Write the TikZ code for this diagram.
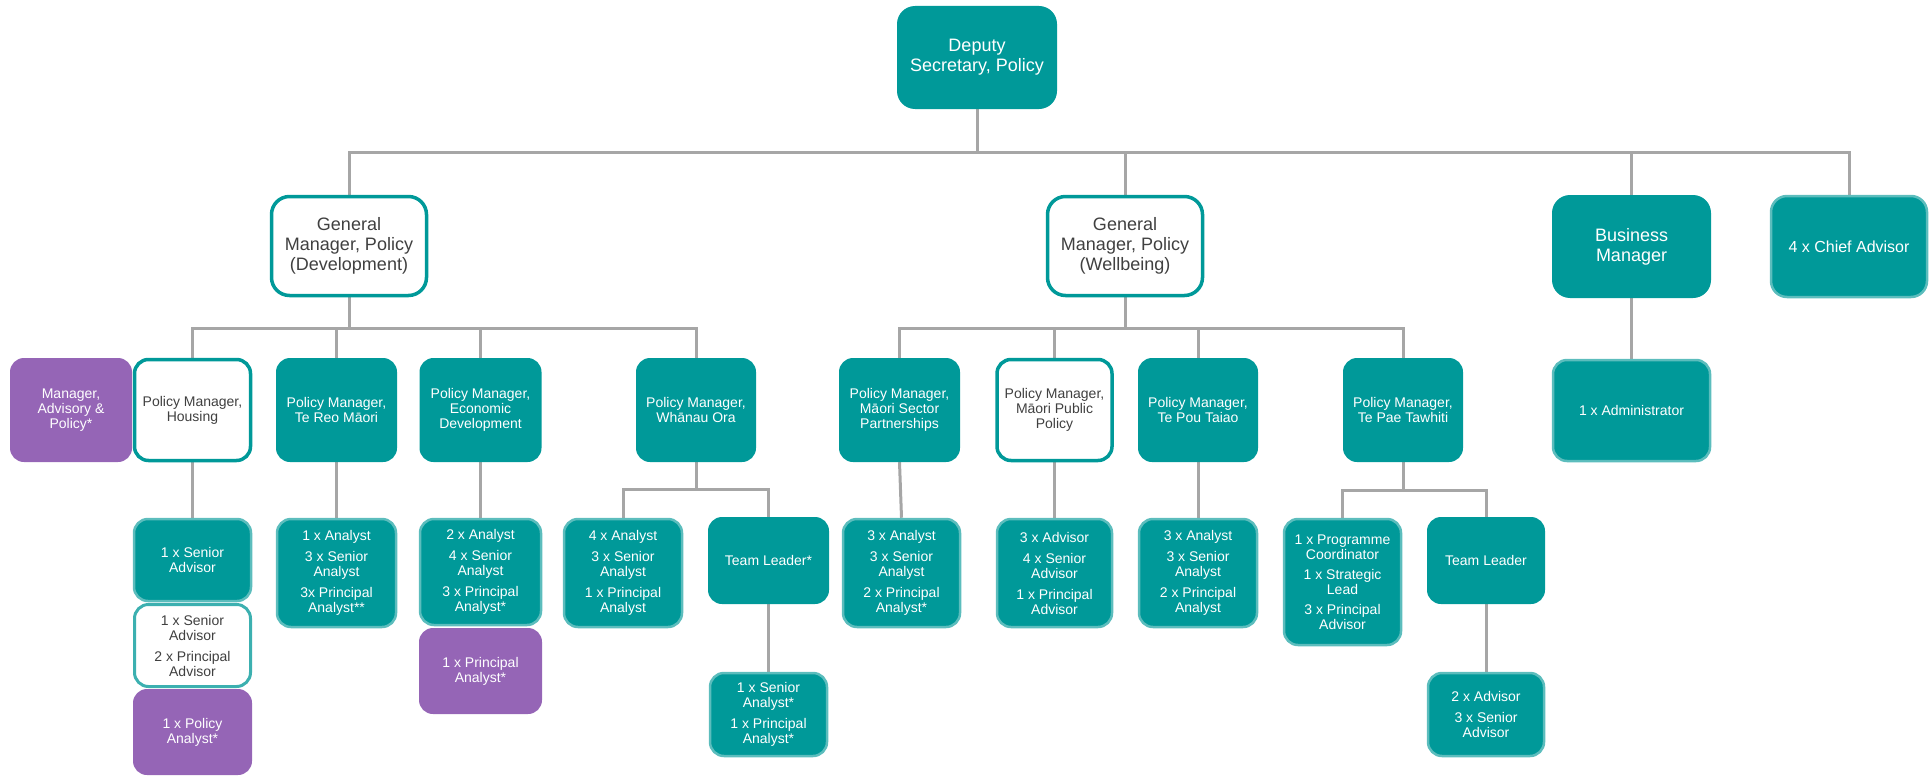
\documentclass[tikz,border=0pt]{standalone}
\usepackage{fontspec}
\setmainfont{Liberation Sans}
\usetikzlibrary{backgrounds}
\definecolor{teal0}{RGB}{0,153,153}
\definecolor{tealL}{RGB}{92,189,189}
\definecolor{tealW}{RGB}{60,176,176}
\definecolor{purp}{RGB}{149,101,182}
\definecolor{lineg}{RGB}{166,166,166}
\definecolor{txt}{RGB}{64,64,64}
\tikzset{
 orgbase/.style={rectangle, rounded corners=14pt, align=center, inner sep=0pt, font=\fontsize{14}{15}\selectfont},
 tealbox/.style={orgbase, fill=teal0, text=white},
 kidbox/.style={orgbase, fill=teal0, draw=tealL, line width=2.5pt, text=white},
 whitebox/.style={orgbase, fill=white, draw=teal0, line width=3.5pt, text=txt},
 whitekid/.style={orgbase, fill=white, draw=tealW, line width=3pt, text=txt},
 purplebox/.style={orgbase, fill=purp, text=white},
 bigtext/.style={font=\fontsize{18}{20}\selectfont, rounded corners=18pt},
 sz/.style 2 args={minimum width=#1pt, minimum height=#2pt},
 conn/.style={draw=lineg, line width=3pt},
}
\begin{document}
\begin{tikzpicture}[x=1pt,y=-1pt]
\useasboundingbox (0,0) rectangle (1929,776);
% level 0
\node[tealbox,bigtext,sz={160}{103}] (deputy) at (977,57.5) {Deputy\\Secretary, Policy};
% level 1
\node[whitebox,bigtext,sz={155}{99}] (gmdev) at (349,246) {General\\Manager, Policy\\(Development)};
\node[whitebox,bigtext,sz={155}{99}] (gmwell) at (1125,246) {General\\Manager, Policy\\(Wellbeing)};
\node[tealbox,bigtext,sz={159}{103}] (bizmgr) at (1631.5,246.5) {Business\\Manager};
\node[kidbox,sz={156}{101},font=\fontsize{16}{18}\selectfont,rounded corners=16pt] (chief) at (1849,246.5) {4 x Chief Advisor};
% level 2
\node[purplebox,sz={122}{104}] (advpol) at (71,410) {Manager,\\Advisory \&\\Policy*};
\node[whitebox,sz={116}{101}] (housing) at (192.5,410) {Policy Manager,\\Housing};
\node[tealbox,sz={121}{104}] (tereo) at (336.5,410) {Policy Manager,\\Te Reo Māori};
\node[tealbox,sz={122}{104}] (econ) at (480.5,410) {Policy Manager,\\Economic\\Development};
\node[tealbox,sz={120}{104}] (whanau) at (696,410) {Policy Manager,\\Whānau Ora};
\node[tealbox,sz={121}{104}] (msector) at (899.5,410) {Policy Manager,\\Māori Sector\\Partnerships};
\node[whitebox,sz={115}{101}] (mpublic) at (1054.5,410) {Policy Manager,\\Māori Public\\Policy};
\node[tealbox,sz={120}{104}] (tepou) at (1198,410) {Policy Manager,\\Te Pou Taiao};
\node[tealbox,sz={120}{104}] (tepae) at (1403,410) {Policy Manager,\\Te Pae Tawhiti};
\node[kidbox,sz={157}{101}] (admin) at (1631.5,410.5) {1 x Administrator};
% level 3
\node[kidbox,sz={117}{82}] (hsa) at (192.5,560) {1 x Senior\\Advisor};
\node[whitekid,sz={116}{82}] (hwhite) at (192.5,645.5) {1 x Senior\\Advisor\\[6pt]2 x Principal\\Advisor};
\node[purplebox,sz={119}{86}] (hpurple) at (192.5,732) {1 x Policy\\Analyst*};
\node[kidbox,sz={119}{108}] (tereoC) at (336.5,573) {1 x Analyst\\[6pt]3 x Senior\\Analyst\\[6pt]3x Principal\\Analyst**};
\node[kidbox,sz={121}{106}] (econC) at (480.5,572) {2 x Analyst\\[6pt]4 x Senior\\Analyst\\[6pt]3 x Principal\\Analyst*};
\node[purplebox,sz={123}{86}] (econP) at (480.5,671) {1 x Principal\\Analyst*};
\node[kidbox,sz={118}{108}] (whA) at (623,573) {4 x Analyst\\[6pt]3 x Senior\\Analyst\\[6pt]1 x Principal\\Analyst};
\node[tealbox,sz={121}{87}] (whTL) at (768.5,560.5) {Team Leader*};
\node[kidbox,sz={117}{83}] (whTLc) at (768.5,714.5) {1 x Senior\\Analyst*\\[6pt]1 x Principal\\Analyst*};
\node[kidbox,sz={117}{108}] (msC) at (901.5,573) {3 x Analyst\\[6pt]3 x Senior\\Analyst\\[6pt]2 x Principal\\Analyst*};
\node[kidbox,sz={115}{108}] (mpC) at (1054.5,573) {3 x Advisor\\[6pt]4 x Senior\\Advisor\\[6pt]1 x Principal\\Advisor};
\node[kidbox,sz={118}{108}] (tepouC) at (1198,573) {3 x Analyst\\[6pt]3 x Senior\\Analyst\\[6pt]2 x Principal\\Analyst};
\node[kidbox,sz={117}{126}] (tpA) at (1342.5,582) {1 x Programme\\Coordinator\\[5pt]1 x Strategic\\Lead\\[5pt]3 x Principal\\Advisor};
\node[tealbox,sz={118}{87}] (tpTL) at (1486,560.5) {Team Leader};
\node[kidbox,sz={116}{83}] (tpTLc) at (1486,714.5) {2 x Advisor\\[6pt]3 x Senior\\Advisor};
% connectors
\begin{scope}[on background layer]
\coordinate (bus0) at (977,152);
\draw[conn] (deputy.south) -- (bus0);
\draw[conn] (bus0) -| (gmdev.north);
\draw[conn] (bus0) -| (gmwell.north);
\draw[conn] (bus0) -| (bizmgr.north);
\draw[conn] (bus0) -| (chief.north);
\coordinate (busD) at (349,328);
\draw[conn] (gmdev.south) -- (busD);
\draw[conn] (busD) -| (housing.north);
\draw[conn] (busD) -| (tereo.north);
\draw[conn] (busD) -| (econ.north);
\draw[conn] (busD) -| (whanau.north);
\coordinate (busW) at (1125,328);
\draw[conn] (gmwell.south) -- (busW);
\draw[conn] (busW) -| (msector.north);
\draw[conn] (busW) -| (mpublic.north);
\draw[conn] (busW) -| (tepou.north);
\draw[conn] (busW) -| (tepae.north);
\draw[conn] (bizmgr.south) -- (admin.north);
\draw[conn] (housing.south) -- (hsa.north);
\draw[conn] (tereo.south) -- (tereoC.north);
\draw[conn] (econ.south) -- (econC.north);
\coordinate (busH) at (696,489);
\draw[conn] (whanau.south) -- (busH);
\draw[conn] (busH) -| (whA.north);
\draw[conn] (busH) -| (whTL.north);
\draw[conn] (whTL.south) -- (whTLc.north);
\draw[conn] (msector.south) -- (msC.north);
\draw[conn] (mpublic.south) -- (mpC.north);
\draw[conn] (tepou.south) -- (tepouC.north);
\coordinate (busP) at (1403,490);
\draw[conn] (tepae.south) -- (busP);
\draw[conn] (busP) -| (tpA.north);
\draw[conn] (busP) -| (tpTL.north);
\draw[conn] (tpTL.south) -- (tpTLc.north);
\end{scope}
\end{tikzpicture}
\end{document}
